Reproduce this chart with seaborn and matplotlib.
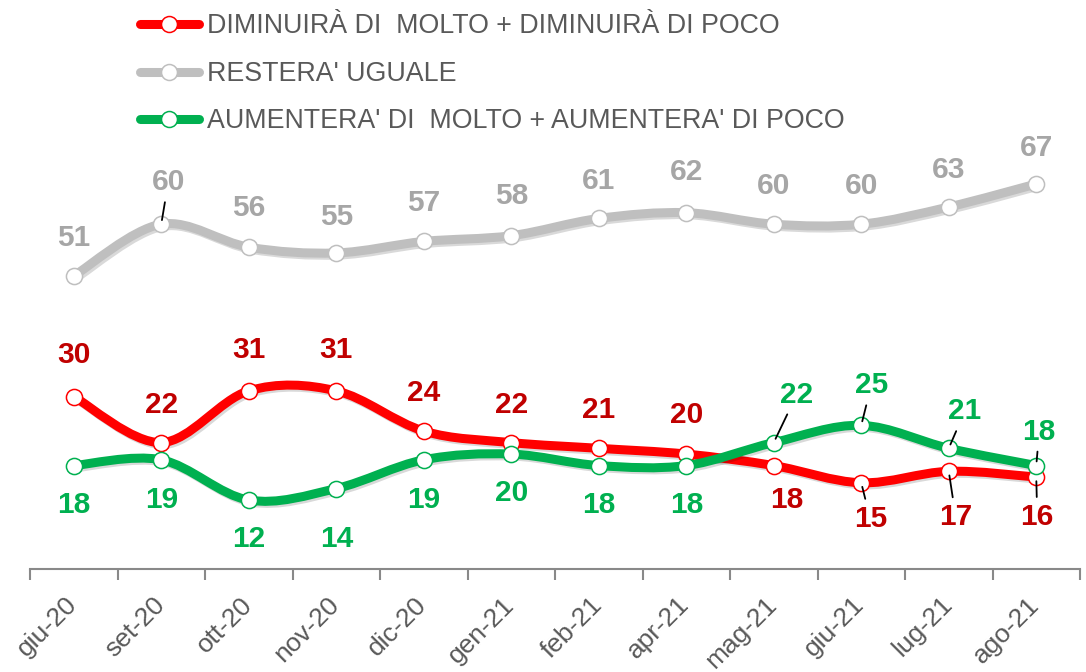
import numpy as np
import pandas as pd
import matplotlib
matplotlib.use("Agg")
import matplotlib.pyplot as plt
import matplotlib.transforms as mtransforms
import seaborn as sns
from matplotlib.path import Path
from matplotlib.patches import PathPatch
from matplotlib.lines import Line2D
import matplotlib.patheffects as pe

sns.set_style("white")
plt.rcParams['font.family'] = ['Liberation Sans', 'DejaVu Sans']

months = ["giu-20", "set-20", "ott-20", "nov-20", "dic-20", "gen-21",
          "feb-21", "apr-21", "mag-21", "giu-21", "lug-21", "ago-21"]
diminuira = [30, 22, 31, 31, 24, 22, 21, 20, 18, 15, 17, 16]
uguale = [51, 60, 56, 55, 57, 58, 61, 62, 60, 60, 63, 67]
aumentera = [18, 19, 12, 14, 19, 20, 18, 18, 22, 25, 21, 18]

series_names = ["DIMINUIRÀ DI  MOLTO + DIMINUIRÀ DI POCO",
                "RESTERA' UGUALE",
                "AUMENTERA' DI  MOLTO + AUMENTERA' DI POCO"]

df = pd.DataFrame({"mese": months * 3,
                   "x": list(range(len(months))) * 3,
                   "valore": diminuira + uguale + aumentera,
                   "serie": np.repeat(series_names, len(months))})

line_cols = {series_names[0]: "#FF0000", series_names[1]: "#BFBFBF", series_names[2]: "#00B050"}
label_cols = {series_names[0]: "#C00000", series_names[1]: "#A6A6A6", series_names[2]: "#00B050"}

# label offsets in pixels (dx, dy)
offsets = {
    series_names[0]: [(0, 42), (0, 38), (0, 41), (0, 41), (0, 38), (0, 38), (0, 38), (0, 39),
                      (13, -34), (9, -36), (7, -46), (1, -40)],
    series_names[1]: [(0, 38), (7, 42), (0, 39), (0, 36), (0, 38), (0, 40), (0, 37), (0, 41),
                      (0, 38), (0, 38), (0, 37), (0, 36)],
    series_names[2]: [(0, -39), (0, -40), (0, -39), (0, -50), (0, -40), (0, -39), (0, -39), (0, -39),
                      (23, 48), (10, 40), (16, 37), (3, 34)],
}
# points whose label gets a leader line
leaders = {
    series_names[0]: [9, 10, 11],
    series_names[1]: [1],
    series_names[2]: [8, 9, 10, 11],
}


def smooth_path(xs, ys):
    pts = np.column_stack([xs, ys]).astype(float)
    n = len(pts)
    verts = [pts[0]]
    codes = [Path.MOVETO]
    for i in range(n - 1):
        p0 = pts[i - 1] if i > 0 else pts[i]
        p1 = pts[i]
        p2 = pts[i + 1]
        p3 = pts[i + 2] if i + 2 < n else pts[i + 1]
        verts += [p1 + (p2 - p0) / 6, p2 - (p3 - p1) / 6, p2]
        codes += [Path.CURVE4] * 3
    return Path(verts, codes)


fig = plt.figure(figsize=(10.86, 6.72), dpi=100)
ax = fig.add_axes([30 / 1086, 103 / 672, 1050 / 1086, 431 / 672])

shadow = [pe.SimpleLineShadow(offset=(1.5, -1.5), alpha=0.15, shadow_color="black"), pe.Normal()]

for z, name in zip([3, 2, 4], series_names):
    sub = df[df["serie"] == name]
    patch = PathPatch(smooth_path(sub["x"], sub["valore"]), facecolor="none",
                      edgecolor=line_cols[name], lw=6.5, capstyle="round", joinstyle="round",
                      zorder=z, path_effects=shadow)
    ax.add_patch(patch)
    sns.scatterplot(data=sub, x="x", y="valore", color="white", edgecolor=line_cols[name],
                    linewidth=1.1, s=135, zorder=z + 0.5, ax=ax, legend=False)
    for i, (xv, yv) in enumerate(zip(sub["x"], sub["valore"])):
        dx, dy = offsets[name][i]
        arrow = None
        if i in leaders[name]:
            arrow = dict(arrowstyle="-", color="black", lw=1.3, shrinkA=2, shrinkB=3)
        ax.annotate(str(yv), xy=(xv, yv), xytext=(dx, dy), textcoords="offset pixels",
                    ha="center", va="center", fontsize=21.5, fontweight="bold",
                    color=label_cols[name], arrowprops=arrow, zorder=6)

ax.set_xlim(-0.5, len(months) - 0.5)
ax.set_ylim(0, 75)
ax.set_xticks(range(len(months)))
ax.set_xticklabels(months, rotation=45, ha="right", va="top", rotation_mode="anchor",
                   fontsize=19, color="#595959")
ax.set_xticks(np.arange(-0.5, len(months), 1), minor=True)
ax.tick_params(axis="x", which="major", bottom=True, length=0, pad=17)
ax.tick_params(axis="x", which="minor", bottom=True, length=8, width=1.5,
               color="#898989", direction="out")
shift = mtransforms.ScaledTranslation(-9 / 100, 0, fig.dpi_scale_trans)
for lab in ax.get_xticklabels():
    lab.set_transform(lab.get_transform() + shift)
ax.set_yticks([])
ax.set_xlabel("")
ax.set_ylabel("")
for s in ["top", "left", "right"]:
    ax.spines[s].set_visible(False)
ax.spines["bottom"].set_color("#898989")
ax.spines["bottom"].set_linewidth(1.5)

handles = [Line2D([0], [0], color=line_cols[n], lw=6.5, marker="o", markersize=11.5,
                  markerfacecolor="white", markeredgecolor=line_cols[n], markeredgewidth=1.1)
           for n in series_names]
fig.legend(handles, series_names, loc="upper left", bbox_to_anchor=(140 / 1086, 0.98),
           frameon=False, fontsize=19.3, labelcolor="#595959", handlelength=2.2,
           handletextpad=0.3, labelspacing=0.8, borderpad=0, borderaxespad=0)

fig.savefig("out.png", dpi=100)
